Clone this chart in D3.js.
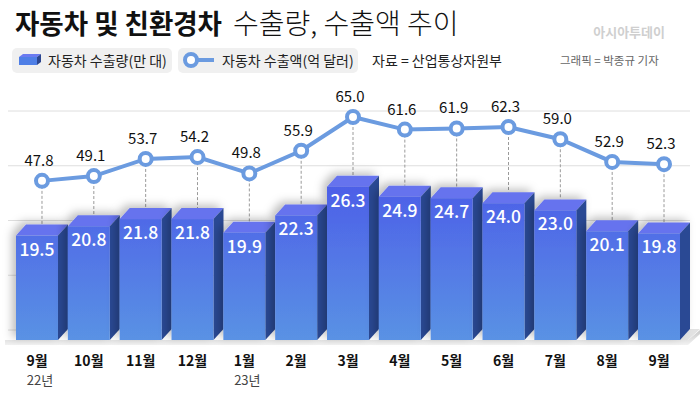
<!DOCTYPE html>
<html>
<head>
<meta charset="utf-8">
<script src="https://cdn.jsdelivr.net/npm/d3@7"></script>
<style>
  html, body { margin: 0; padding: 0; background: #fff; }
  #chart { width: 700px; height: 393px; }
  text { font-family: "Noto Sans CJK KR", "Noto Sans", sans-serif; }
</style>
</head>
<body>
<div id="chart"></div>
<script>
const months = ["9월", "10월", "11월", "12월", "1월", "2월", "3월", "4월", "5월", "6월", "7월", "8월", "9월"];
const years = ["22년", "", "", "", "23년", "", "", "", "", "", "", "", ""];
const exportVolume = [19.5, 20.8, 21.8, 21.8, 19.9, 22.3, 26.3, 24.9, 24.7, 24.0, 23.0, 20.1, 19.8];
const exportValue = [47.8, 49.1, 53.7, 54.2, 49.8, 55.9, 65.0, 61.6, 61.9, 62.3, 59.0, 52.9, 52.3];

function draw() {
  const w = 700, h = 393;
  const floorY = 340;
  const depthX = 10, depthY = 11;

  const svg = d3.select("#chart").append("svg")
    .attr("width", w).attr("height", h)
    .attr("viewBox", `0 0 ${w} ${h}`);

  const defs = svg.append("defs");
  const grad = defs.append("linearGradient")
    .attr("id", "front")
    .attr("gradientUnits", "userSpaceOnUse")
    .attr("x1", 0).attr("x2", 0).attr("y1", 180).attr("y2", floorY);
  grad.append("stop").attr("offset", "0%").attr("stop-color", "#4c5de8");
  grad.append("stop").attr("offset", "100%").attr("stop-color", "#5a92e4");

  const floorGrad = defs.append("linearGradient")
    .attr("id", "floor").attr("x1", 0).attr("x2", 0).attr("y1", 0).attr("y2", 1);
  floorGrad.append("stop").attr("offset", "0%").attr("stop-color", "#c8c8c8");
  floorGrad.append("stop").attr("offset", "100%").attr("stop-color", "#f2f2f2");

  const shadow = defs.append("filter").attr("id", "shadow")
    .attr("x", "-50%").attr("y", "-50%").attr("width", "200%").attr("height", "200%");
  shadow.append("feDropShadow")
    .attr("dx", -4).attr("dy", -3).attr("stdDeviation", 4.5)
    .attr("flood-color", "#000").attr("flood-opacity", 0.25);

  // title
  svg.append("text")
    .attr("x", 15).attr("y", 34)
    .attr("font-size", 27).attr("font-weight", 700).attr("fill", "#111")
    .attr("textLength", 207).attr("lengthAdjust", "spacingAndGlyphs")
    .text("자동차 및 친환경차");
  svg.append("text")
    .attr("x", 233).attr("y", 34)
    .attr("font-size", 28).attr("font-weight", 300).attr("fill", "#111")
    .text("수출량, 수출액 추이");

  svg.append("text")
    .attr("x", 665).attr("y", 37).attr("text-anchor", "end")
    .attr("font-size", 13).attr("font-weight", 700).attr("fill", "#cfcfcf")
    .text("아시아투데이");

  // legend
  const legend = svg.append("g");
  legend.append("rect").attr("x", 12).attr("y", 48).attr("width", 160).attr("height", 25)
    .attr("rx", 5).attr("fill", "#f0f0f0");
  legend.append("rect").attr("x", 178).attr("y", 48).attr("width", 180).attr("height", 25)
    .attr("rx", 5).attr("fill", "#f0f0f0");
  legend.append("polygon").attr("points", "19,57 37,57 41,54 23,54").attr("fill", "#6b7bf0");
  legend.append("rect").attr("x", 19).attr("y", 57).attr("width", 18).attr("height", 8).attr("fill", "#4f7fe6");
  legend.append("polygon").attr("points", "37,57 41,54 41,62 37,65").attr("fill", "#2c468f");
  legend.append("text").attr("x", 48).attr("y", 66).attr("font-size", 14).attr("fill", "#222")
    .text("자동차 수출량(만 대)");
  legend.append("line").attr("x1", 190).attr("x2", 214).attr("y1", 60).attr("y2", 60)
    .attr("stroke", "#6b9be0").attr("stroke-width", 4);
  legend.append("circle").attr("cx", 191).attr("cy", 60).attr("r", 6)
    .attr("fill", "#fff").attr("stroke", "#6b9be0").attr("stroke-width", 4);
  legend.append("text").attr("x", 222).attr("y", 66).attr("font-size", 14).attr("fill", "#222")
    .text("자동차 수출액(억 달러)");
  legend.append("text").attr("x", 372).attr("y", 66).attr("font-size", 14).attr("fill", "#222")
    .text("자료 = 산업통상자원부");
  legend.append("text").attr("x", 560).attr("y", 65).attr("font-size", 11.5).attr("fill", "#666")
    .text("그래픽 = 박종규 기자");

  // scales
  const idx = d3.range(months.length);
  const x = d3.scaleBand().domain(idx).range([16, 680]).paddingInner(0.19).paddingOuter(0);
  const yBar = d3.scaleLinear().domain([5, 30]).range([floorY, floorY - 25 * 7.2]);
  const yLine = d3.scaleLinear().domain([30, 70]).range([247, 98.4]);
  const grid = d3.scaleLinear().domain([0, 4]).range([330, 111]);

  // gridlines
  svg.append("g").selectAll("line")
    .data(grid.ticks(4))
    .join("line")
    .attr("x1", 8).attr("x2", 690)
    .attr("y1", d => grid(d)).attr("y2", d => grid(d))
    .attr("stroke", "#dedede").attr("stroke-width", 1);

  // floor
  svg.append("polygon")
    .attr("points", `5,${floorY} 688,${floorY} 700,${floorY - 10} 700,${floorY - 6} 688,${floorY + 5} 5,${floorY + 5}`)
    .attr("fill", "url(#floor)");
  svg.append("polygon")
    .attr("points", `680,${floorY} 690,${floorY - 11} 700,${floorY - 11} 688,${floorY}`)
    .attr("fill", "#e2e2e2");

  // dashed guides from circle to bar top
  svg.append("g").selectAll("line")
    .data(idx)
    .join("line")
    .attr("x1", i => x(i) + x.bandwidth() / 2 + depthX / 2)
    .attr("x2", i => x(i) + x.bandwidth() / 2 + depthX / 2)
    .attr("y1", i => yLine(exportValue[i]))
    .attr("y2", i => yBar(exportVolume[i]) - depthY)
    .attr("stroke", "#9a9a9a").attr("stroke-dasharray", "3,2").attr("stroke-width", 1);

  // bars
  const bars = svg.append("g").selectAll("g")
    .data(idx)
    .join("g")
    .attr("filter", "url(#shadow)");

  bars.append("polygon")
    .attr("points", i => {
      const x0 = x(i), x1 = x(i) + x.bandwidth(), y0 = yBar(exportVolume[i]);
      return `${x0},${y0} ${x1},${y0} ${x1 + depthX},${y0 - depthY} ${x0 + depthX},${y0 - depthY}`;
    })
    .attr("fill", "#6673ee");
  bars.append("polygon")
    .attr("points", i => {
      const x1 = x(i) + x.bandwidth(), y0 = yBar(exportVolume[i]);
      return `${x1},${y0} ${x1 + depthX},${y0 - depthY} ${x1 + depthX},${floorY - depthY} ${x1},${floorY}`;
    })
    .attr("fill", "#2b4a94");
  bars.append("rect")
    .attr("x", i => x(i))
    .attr("y", i => yBar(exportVolume[i]))
    .attr("width", x.bandwidth())
    .attr("height", i => floorY - yBar(exportVolume[i]))
    .attr("fill", "url(#front)");

  svg.append("g").selectAll("text")
    .data(idx)
    .join("text")
    .attr("x", i => x(i) + x.bandwidth() / 2)
    .attr("y", i => yBar(exportVolume[i]) + 20)
    .attr("text-anchor", "middle")
    .attr("font-size", 17.5).attr("font-weight", 500).attr("fill", "#fff")
    .text(i => exportVolume[i].toFixed(1));

  // line
  const line = d3.line()
    .x(i => x(i) + x.bandwidth() / 2 + depthX / 2)
    .y(i => yLine(exportValue[i]));
  svg.append("path")
    .datum(idx)
    .attr("d", line)
    .attr("fill", "none").attr("stroke", "#6b9be0").attr("stroke-width", 4);

  svg.append("g").selectAll("circle")
    .data(idx)
    .join("circle")
    .attr("cx", i => x(i) + x.bandwidth() / 2 + depthX / 2)
    .attr("cy", i => yLine(exportValue[i]))
    .attr("r", 6)
    .attr("fill", "#fff").attr("stroke", "#6b9be0").attr("stroke-width", 4);

  svg.append("g").selectAll("text")
    .data(idx)
    .join("text")
    .attr("x", i => x(i) + x.bandwidth() / 2 + 2)
    .attr("y", i => yLine(exportValue[i]) - 15)
    .attr("text-anchor", "middle")
    .attr("font-size", 15).attr("fill", "#111")
    .text(i => exportValue[i].toFixed(1));

  // x labels
  svg.append("g").selectAll("text")
    .data(idx)
    .join("text")
    .attr("x", i => x(i) + x.bandwidth() / 2)
    .attr("y", 366)
    .attr("text-anchor", "middle")
    .attr("font-size", 14).attr("font-weight", 700).attr("fill", "#111")
    .text(i => months[i]);

  svg.append("g").selectAll("text")
    .data(idx.filter(i => years[i]))
    .join("text")
    .attr("x", i => x(i) + x.bandwidth() / 2 + 3)
    .attr("y", 385)
    .attr("text-anchor", "middle")
    .attr("font-size", 13).attr("fill", "#444")
    .text(i => years[i]);
}

draw();
</script>
</body>
</html>
